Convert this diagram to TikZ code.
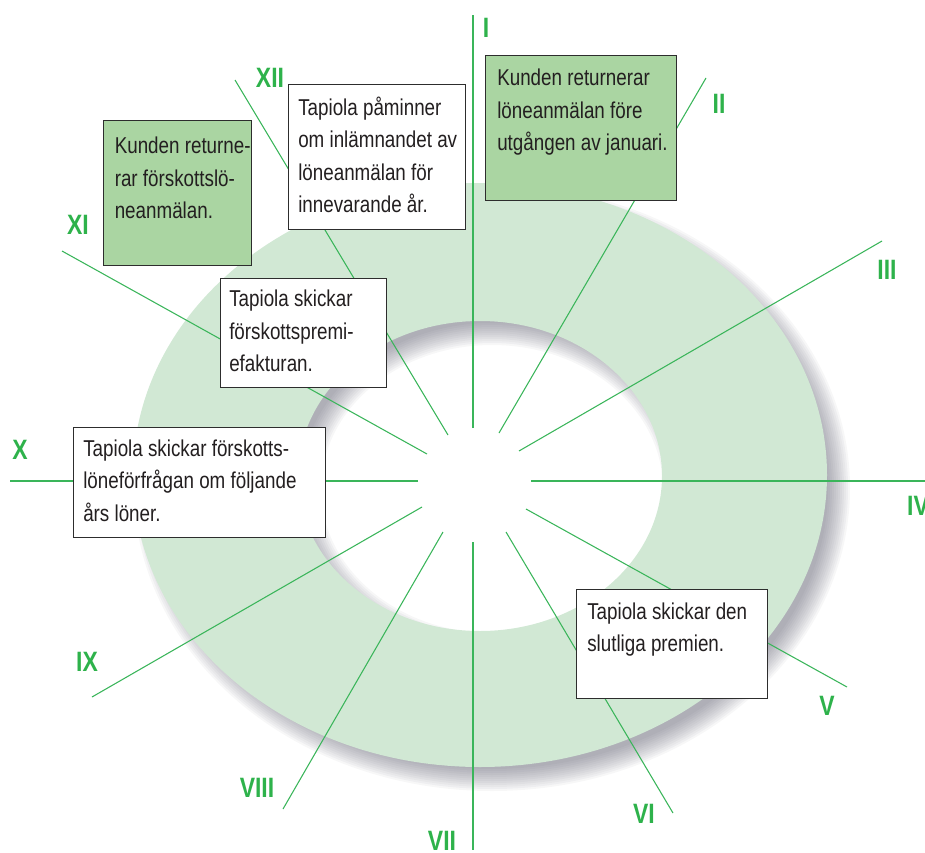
\documentclass[tikz,border=0pt]{standalone}
\usepackage{fontspec}
\setmainfont{Liberation Sans}[FakeStretch=0.82]
\usetikzlibrary{calc}
\definecolor{ringfill}{RGB}{209,232,212}
\definecolor{boxgreen}{RGB}{170,213,162}
\definecolor{labgreen}{RGB}{46,178,75}
\definecolor{spokegreen}{RGB}{58,181,90}
\definecolor{boxline}{RGB}{45,45,45}
\definecolor{txtcol}{RGB}{35,31,32}
\definecolor{shadowcol}{RGB}{60,60,80}
\begin{document}
\begin{tikzpicture}[x=0.75pt,y=-0.75pt,
  spoke/.style={draw=spokegreen,line width=0.8pt},
  whitebox/.style={draw=boxline,fill=white,line width=1pt,anchor=north west,inner sep=0pt},
  greenbox/.style={whitebox,fill=boxgreen},
  txt/.style={anchor=base west,align=left,inner sep=0pt,text=txtcol,font=\fontsize{17.2}{24.2}\selectfont},
  numlab/.style={inner sep=0pt,text=labgreen,font=\fontsize{21}{24}\selectfont\bfseries}]
\useasboundingbox (0,0) rectangle (925,853);
% shadow of ring
\foreach \k in {0,...,11}{
  \pgfmathsetmacro\dd{(12-24*(\k+0.5)/12)*0.75}
  \fill[shadowcol,opacity=0.045,even odd rule]
    (492,488) ellipse [x radius={260.25pt+\dd pt}, y radius={219pt+\dd pt}]
    (492,489) ellipse [x radius={136.5pt-\dd pt}, y radius={116.25pt-\dd pt}];
}
% ring
\fill[ringfill,even odd rule]
  (480,475) ellipse [x radius=260.25pt, y radius=219pt]
  (480,476) ellipse [x radius=136.5pt, y radius=116.25pt];
% spokes
\coordinate (i1) at (473,428);  \coordinate (o1) at (473,15);
\coordinate (i2) at (499,433);  \coordinate (o2) at (706,78);
\coordinate (i3) at (519,451);  \coordinate (o3) at (882,241);
\coordinate (i4) at (531,481);  \coordinate (o4) at (926,481);
\coordinate (i5) at (526,509);  \coordinate (o5) at (847,687);
\coordinate (i6) at (506,532);  \coordinate (o6) at (673,813);
\coordinate (i7) at (473,542);  \coordinate (o7) at (473,850);
\coordinate (i8) at (443,532);  \coordinate (o8) at (283,809);
\coordinate (i9) at (422,507);  \coordinate (o9) at (92,697);
\coordinate (i10) at (418,481); \coordinate (o10) at (10,481);
\coordinate (i11) at (427,454); \coordinate (o11) at (62,251);
\coordinate (i12) at (448,435); \coordinate (o12) at (235,80);
\foreach \n in {1,...,12}{\draw[spoke] (i\n) -- (o\n);}
% boxes
\node[greenbox,minimum width=143.25pt,minimum height=108.75pt] (b1) at (485,55) {};
\node[whitebox,minimum width=132.75pt,minimum height=108.75pt] (b2) at (288,84) {};
\node[greenbox,minimum width=111pt,minimum height=108.75pt] (b3) at (103,120) {};
\node[whitebox,minimum width=124.5pt,minimum height=81.75pt] (b4) at (220,278) {};
\node[whitebox,minimum width=189pt,minimum height=82.5pt] (b5) at (73,427) {};
\node[whitebox,minimum width=143.25pt,minimum height=81.75pt] (b6) at (576,589) {};
% texts (anchored at the baseline of the last line)
\node[txt] (t1) at (497,150.5) {Kunden returnerar\\löneanmälan före\\utgången av januari.};
\node[txt] (t2) at (298,212.5) {Tapiola påminner\\om inlämnandet av\\löneanmälan för\\innevarande år.};
\node[txt] (t3) at (114.5,218.5) {Kunden returne-\\rar förskottslö-\\neanmälan.};
\node[txt] (t4) at (229,371.5) {Tapiola skickar\\förskottspremi-\\efakturan.};
\node[txt] (t5) at (83,521.2) {Tapiola skickar förskotts-\\löneförfrågan om följande\\års löner.};
\node[txt] (t6) at (587,651.3) {Tapiola skickar den\\slutliga premien.};
% numerals
\node[numlab] (n1) at (486,28) {I};
\node[numlab] (n2) at (719,104) {II};
\node[numlab] (n3) at (887,270) {III};
\node[numlab] (n4) at (918,506) {IV};
\node[numlab] (n5) at (827,706) {V};
\node[numlab] (n6) at (644,814) {VI};
\node[numlab] (n7) at (442,841) {VII};
\node[numlab] (n8) at (257,788) {VIII};
\node[numlab] (n9) at (87,662) {IX};
\node[numlab] (n10) at (20,450) {X};
\node[numlab] (n11) at (78,225) {XI};
\node[numlab] (n12) at (270,78) {XII};
\end{tikzpicture}
\end{document}
